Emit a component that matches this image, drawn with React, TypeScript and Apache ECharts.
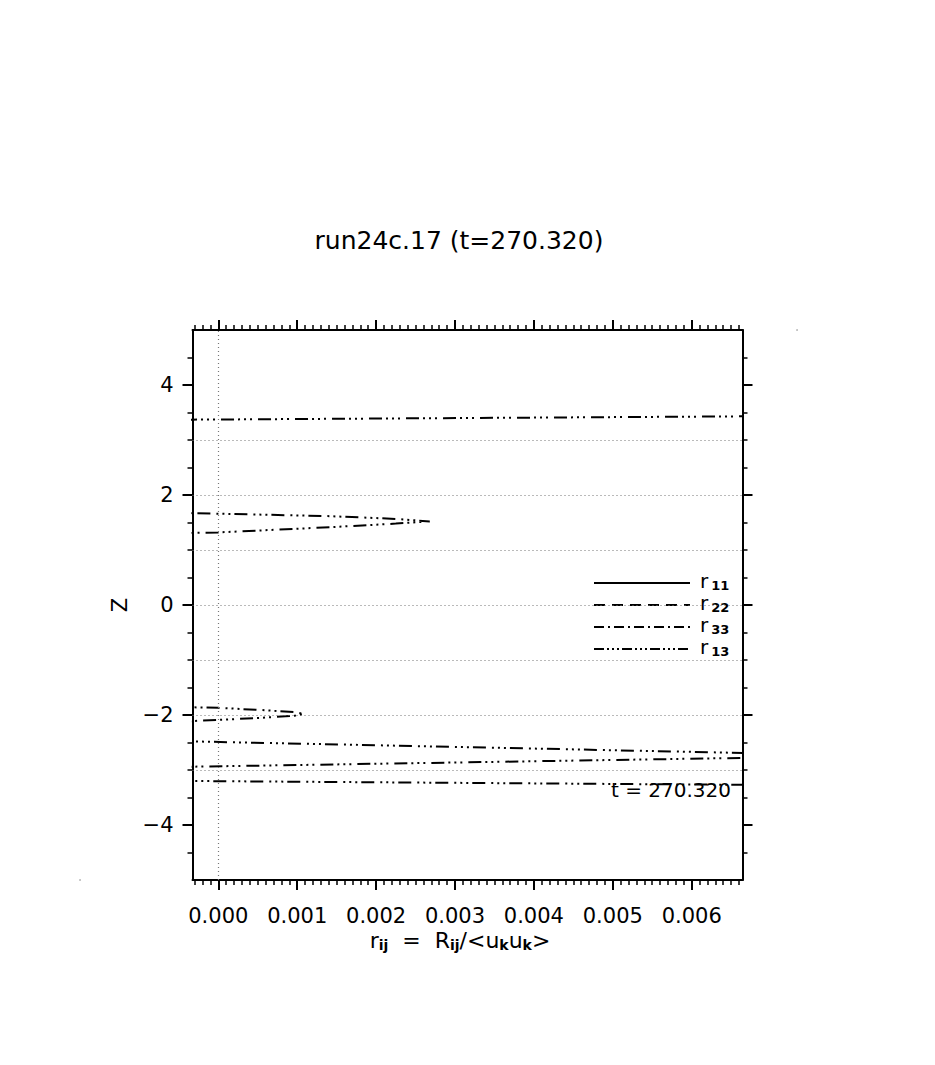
import React, { useEffect, useRef } from "react";
import * as echarts from "echarts";

const FONT = "DejaVu Sans";

const titleText = "run24c.17 (t=270.320)";
const timeText = "t = 270.320";
const yName = "Z";

// legend entries (names, subscripts, line styles)
const legendSubs = ["11", "22", "33", "13"];
const legendDashes: (string | number[])[] = ["solid", [11, 7], [10, 4, 2, 4], [10, 3, 2, 3, 2, 3, 2, 3]];

// axis ticks
const xMin = -0.000327;
const xMax = 0.006644;
const yMin = -5;
const yMax = 5;
const xMajorTicks = [0, 0.001, 0.002, 0.003, 0.004, 0.005, 0.006];
const yMajorTicks = [-4, -2, 0, 2, 4];
const xMinorStep = 0.0001;
const yMinorStep = 0.5;

// dotted reference lines
const gridZ = [-3, -2, -1, 0, 1, 2, 3];
const gridX = [0];

// r13 profile: z positions and values
const r13Z = [
  -3.4, -3.27, -3.2, -3.12, -3.0, -2.94, -2.78, -2.74, -2.69, -2.48, -2.4, -2.18, -2.11, -2.09, -2.05,
  -2.01, -1.98, -1.95, -1.91, -1.87, -1.86, -1.78, 1.22, 1.31, 1.32, 1.415, 1.48, 1.52, 1.565, 1.615,
  1.66, 1.67, 1.76, 3.3, 3.37, 3.43, 3.52,
];
const r13X = [
  0.0076, 0.00665, -0.00033, -0.0009, -0.0009, -0.00033, 0.00665, 0.0075, 0.00665, -0.00033, -0.0009,
  -0.0009, -0.00033, 0.0, 0.00055, 0.00098, 0.00108, 0.00098, 0.00055, 0.0, -0.00033, -0.0009, -0.0009,
  -0.00033, 0.0, 0.00142, 0.00225, 0.00268, 0.00225, 0.00142, 0.0, -0.00033, -0.0009, -0.0009, -0.00033,
  0.00665, 0.0076,
];

function range(a: number, b: number, step: number, digits: number) {
  const out: number[] = [];
  const n = Math.round((b - a) / step);
  for (let i = 0; i <= n; i++) out.push(+(a + i * step).toFixed(digits));
  return out;
}

const xMinorTicks = range(-0.0003, 0.0066, xMinorStep, 5);
const yMinorTicks = range(-4.5, 4.5, yMinorStep, 2);

const fmtY = (v: number) => (v < 0 ? "\u2212" + Math.abs(v) : String(v));

function makeAxis(
  kind: "x" | "y",
  position: string,
  ticks: number[],
  len: number,
  width: number,
  showLine: boolean,
  showLabel: boolean
): any {
  return {
    type: "value",
    position,
    min: kind === "x" ? xMin : yMin,
    max: kind === "x" ? xMax : yMax,
    axisLine: { show: showLine, onZero: false, lineStyle: { color: "#000", width: 2 } },
    axisTick: {
      show: true,
      inside: false,
      customValues: ticks,
      length: len,
      lineStyle: { color: "#000", width },
    },
    axisLabel: {
      show: showLabel,
      customValues: ticks,
      formatter: kind === "x" ? (v: number) => v.toFixed(3) : fmtY,
      margin: kind === "x" ? 25 : 19,
      fontSize: 21,
      fontFamily: FONT,
      color: "#000",
    },
    splitLine: { show: false },
    minorTick: { show: false },
  };
}

export default function App() {
  const ref = useRef<HTMLDivElement>(null);

  useEffect(() => {
    if (!ref.current) return;
    const chart = echarts.init(ref.current, null, { renderer: "svg" });

    const r13Data = r13Z.map((z, i) => [r13X[i], z]);

    const xAxes = [
      makeAxis("x", "bottom", xMajorTicks, 10, 2, true, true),
      makeAxis("x", "bottom", xMinorTicks, 5, 1.5, false, false),
      makeAxis("x", "top", xMajorTicks, 10, 2, true, false),
      makeAxis("x", "top", xMinorTicks, 5, 1.5, false, false),
    ];
    const yAxes = [
      {
        ...makeAxis("y", "left", yMajorTicks, 10, 2, true, true),
        name: yName,
        nameLocation: "middle",
        nameGap: 62,
        nameRotate: 90,
        nameTextStyle: { fontSize: 21, fontFamily: FONT, color: "#000" },
      },
      makeAxis("y", "left", yMinorTicks, 5, 1.5, false, false),
      makeAxis("y", "right", yMajorTicks, 10, 2, true, false),
      makeAxis("y", "right", yMinorTicks, 5, 1.5, false, false),
    ];

    const legendTop = 583;
    const legendStep = 22;
    const legendGraphics: any[] = [];
    legendSubs.forEach((sub, i) => {
      const y = legendTop + i * legendStep;
      legendGraphics.push({
        type: "line",
        shape: { x1: 594, y1: y, x2: 690, y2: y },
        style: {
          stroke: "#000",
          lineWidth: 2,
          lineDash: legendDashes[i] === "solid" ? null : legendDashes[i],
        },
      });
      legendGraphics.push({
        type: "text",
        style: {
          x: 700,
          y: y - 12,
          text: "{r|r}{s|" + sub + "}",
          align: "left",
          verticalAlign: "top",
          rich: {
            r: { fontSize: 20, fontFamily: FONT, lineHeight: 21, verticalAlign: "top", fill: "#000" },
            s: {
              fontSize: 13,
              fontWeight: "bold",
              fontFamily: FONT,
              lineHeight: 13,
              verticalAlign: "bottom",
              padding: [13, 0, 0, 3],
              fill: "#000",
            },
          },
        },
      });
    });

    const option: any = {
      animation: false,
      backgroundColor: "#fff",
      grid: { left: 192.5, top: 330, width: 550, height: 550, containLabel: false },
      xAxis: xAxes,
      yAxis: yAxes,
      series: [
        {
          name: "r13",
          type: "line",
          xAxisIndex: 0,
          yAxisIndex: 0,
          data: r13Data,
          showSymbol: false,
          symbol: "none",
          clip: true,
          lineStyle: { color: "#000", width: 2, type: [13, 4, 2, 4, 2, 4, 2, 6] },
          markLine: {
            silent: true,
            symbol: ["none", "none"],
            label: { show: false },
            lineStyle: { type: [1, 3], color: "#777", width: 1.2 },
            data: [...gridZ.map((z) => ({ yAxis: z })), ...gridX.map((x) => ({ xAxis: x }))],
          },
        },
      ],
      graphic: [
        {
          type: "text",
          style: {
            x: 459,
            y: 240,
            text: titleText,
            align: "center",
            verticalAlign: "middle",
            fontSize: 25,
            fontFamily: FONT,
            fill: "#000",
          },
        },
        {
          type: "text",
          style: {
            x: 460,
            y: 929,
            text: "{m|r}{s|ij}{m|  =  R}{s|ij}{m|/<u}{s|k}{m|u}{s|k}{m|>}",
            align: "center",
            verticalAlign: "top",
            rich: {
              m: { fontSize: 22, fontFamily: FONT, lineHeight: 23, verticalAlign: "top", fill: "#000" },
              s: {
                fontSize: 14,
                fontWeight: "bold",
                fontFamily: FONT,
                lineHeight: 14,
                verticalAlign: "bottom",
                padding: [14, 0, 0, 0],
                fill: "#000",
              },
            },
          },
        },
        {
          type: "text",
          style: {
            x: 611,
            y: 790,
            text: timeText,
            align: "left",
            verticalAlign: "middle",
            fontSize: 20,
            fontFamily: FONT,
            fill: "#000",
          },
        },
        ...legendGraphics,
        { type: "circle", shape: { cx: 797, cy: 330, r: 0.8 }, style: { fill: "#aaa" } },
        { type: "circle", shape: { cx: 80, cy: 880, r: 0.8 }, style: { fill: "#aaa" } },
      ],
    };

    chart.setOption(option);
    return () => chart.dispose();
  }, []);

  return (
    <div
      ref={ref}
      style={{ position: "absolute", left: 0, top: 0, width: 935, height: 1065, background: "#fff" }}
    />
  );
}
